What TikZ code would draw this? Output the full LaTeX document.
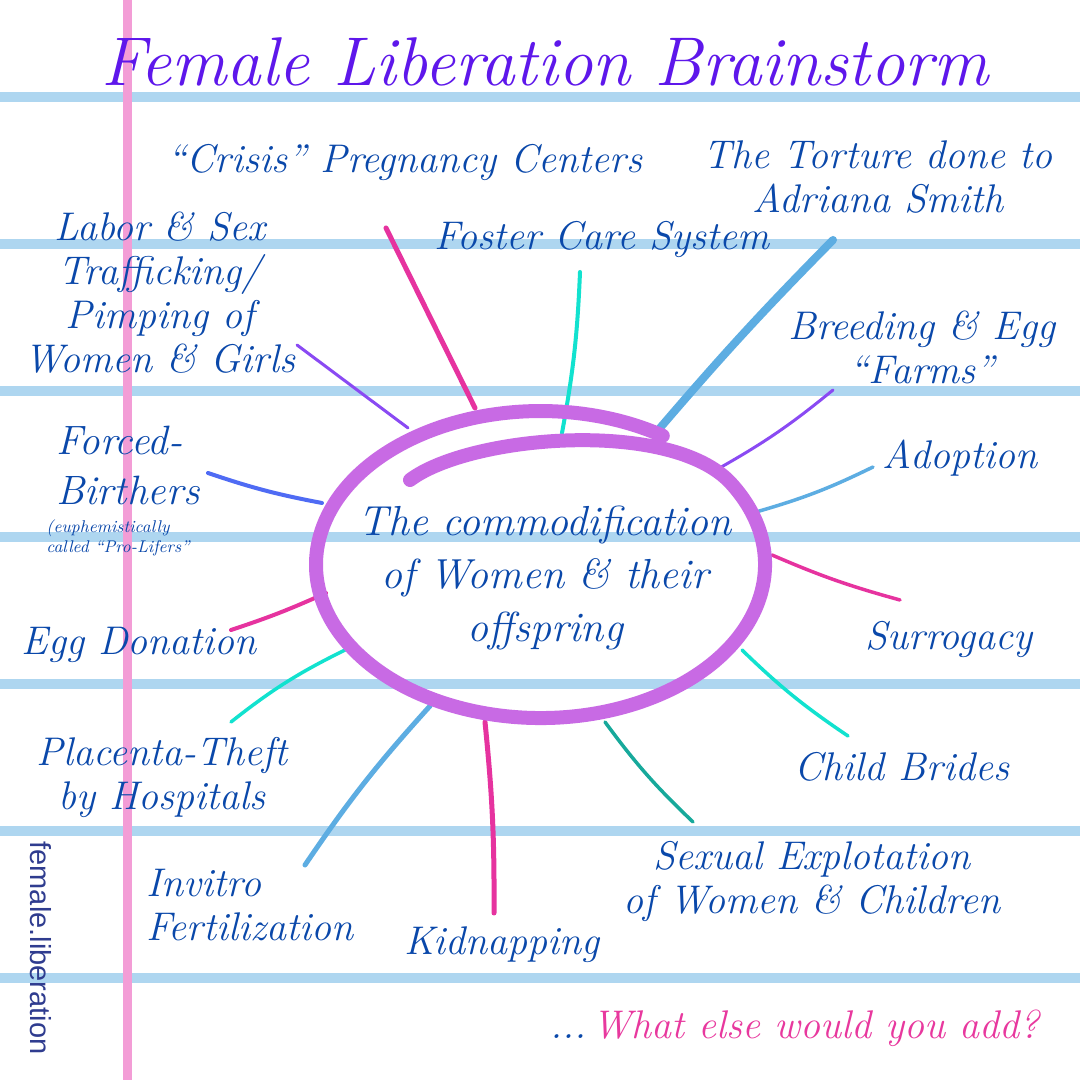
\documentclass[tikz,border=0pt]{standalone}
\usepackage{fontspec}
\newfontfamily\wmfont{Liberation Sans}
\definecolor{rulecol}{RGB}{174,214,240}
\definecolor{marginpink}{RGB}{243,157,214}
\definecolor{inkblue}{RGB}{10,72,170}
\definecolor{titlecol}{RGB}{94,23,235}
\definecolor{ellcol}{RGB}{200,106,228}
\definecolor{spPink}{RGB}{230,51,159}
\definecolor{spTurq}{RGB}{18,226,207}
\definecolor{spLight}{RGB}{93,173,226}
\definecolor{spPurple}{RGB}{138,74,243}
\definecolor{spBlue}{RGB}{79,107,244}
\definecolor{spTeal}{RGB}{23,169,155}
\definecolor{qpink}{RGB}{232,56,158}
\definecolor{wmcol}{RGB}{47,60,143}
\begin{document}
\begin{tikzpicture}[x=0.5pt,y=0.5pt,
  lbl/.style={font=\fontsize{20}{22}\selectfont\itshape, text=inkblue, align=center, inner sep=0pt},
  spk/.style={line cap=round, line width=#1},
  spk/.default=1.75pt]
\useasboundingbox (0,0) rectangle (1080,1080);
\fill[white] (0,0) rectangle (1080,1080);
% ruled paper
\foreach \yy in {983,836,689,543,396,249,102}
  \draw[rulecol, line width=4.75pt] (0,\yy) -- (1080,\yy);
\draw[marginpink, line width=4.5pt] (127,0) -- (127,1080);

% spoke end points
\coordinate (crisisA) at (386,852);   \coordinate (crisisB) at (475,672);
\coordinate (fosterA) at (580,808);   \coordinate (fosterB) at (562,647);
\coordinate (tortA) at (833,840);     \coordinate (tortB) at (660,652);
\coordinate (laborA) at (297,735);    \coordinate (laborB) at (408,652);
\coordinate (breedA) at (833,690);    \coordinate (breedB) at (716,610);
\coordinate (adoptA) at (873,613);    \coordinate (adoptB) at (756,568);
\coordinate (forcedA) at (208,607);   \coordinate (forcedB) at (322,577);
\coordinate (surroA) at (900,480);    \coordinate (surroB) at (772,525);
\coordinate (eggA) at (231,450);      \coordinate (eggB) at (326,487);
\coordinate (placA) at (231,358);     \coordinate (placB) at (345,430);
\coordinate (childA) at (848,344);    \coordinate (childB) at (742,430);
\coordinate (ivfA) at (305,215);      \coordinate (ivfB) at (430,374);
\coordinate (kidA) at (494,167);      \coordinate (kidB) at (485,358);
\coordinate (sexA) at (693,258);      \coordinate (sexB) at (605,358);

% spokes
\draw[spPink, spk=2.5pt] (crisisA) -- (crisisB);
\draw[spTurq, spk=2pt] (fosterA) to[bend left=4] (fosterB);
\draw[spLight, spk=4pt] (tortA) to[bend right=2] (tortB);
\draw[spPurple, spk=1.5pt] (laborA) -- (laborB);
\draw[spPurple, spk=1.5pt] (breedA) to[bend left=5] (breedB);
\draw[spLight, spk=1.75pt] (adoptA) to[bend left=5] (adoptB);
\draw[spBlue, spk=2pt] (forcedA) to[bend right=4] (forcedB);
\draw[spPink, spk=1.75pt] (surroA) to[bend left=4] (surroB);
\draw[spPink, spk=2pt] (eggA) to[bend right=3] (eggB);
\draw[spTurq, spk=1.75pt] (placA) to[bend left=6] (placB);
\draw[spTurq, spk=1.75pt] (childA) to[bend left=5] (childB);
\draw[spLight, spk=2.5pt] (ivfA) to[bend left=4] (ivfB);
\draw[spPink, spk=2.5pt] (kidA) to[bend right=3] (kidB);
\draw[spTeal, spk=1.75pt] (sexA) to[bend left=5] (sexB);

% central loop
\draw[ellcol, line width=7pt, line cap=round]
  (410,600) .. controls (470,645) and (671.4,661.8) .. (730.9,596.8)
  arc[start angle=32, end angle=-303, x radius=112.25pt, y radius=76.75pt];

% texts
\node[lbl, font=\fontsize{34.5}{36}\selectfont\itshape, text=titlecol, anchor=base] (title) at (545,994) {Female Liberation Brainstorm};
\node[lbl, font=\fontsize{21}{26.5}\selectfont\itshape] (hub) at (545,502) {The commodification\\of Women \& their\\offspring};
\node[lbl] (crisis) at (405,917) {“Crisis” Pregnancy Centers};
\node[lbl] (torture) at (878,903) {The Torture done to\\Adriana Smith};
\node[lbl] (labor) at (160,787) {Labor \& Sex\\Trafficking/\\Pimping of\\Women \& Girls};
\node[lbl] (foster) at (602,840) {Foster Care System};
\node[lbl] (breeding) at (922,733) {Breeding \& Egg\\“Farms”};
\node[lbl] (adoption) at (960,622) {Adoption};
\node[lbl, font=\fontsize{20.5}{25}\selectfont\itshape, align=left, anchor=west] (forced) at (56,615) {Forced-\\Birthers};
\node[lbl, font=\fontsize{8.5}{10}\selectfont\itshape, align=left, anchor=west] (euph) at (46,542) {(euphemistically\\called “Pro-Lifers”};
\node[lbl] (egg) at (139,435) {Egg Donation};
\node[lbl] (surrogacy) at (949,440) {Surrogacy};
\node[lbl] (placenta) at (162,302) {Placenta-Theft\\by Hospitals};
\node[lbl] (child) at (902,313) {Child Brides};
\node[lbl, align=left, anchor=west] (invitro) at (146,175) {Invitro\\Fertilization};
\node[lbl] (kidnap) at (502,135) {Kidnapping};
\node[lbl] (sexual) at (812,198) {Sexual Explotation\\of Women \& Children};
\node[lbl] (whatelse) at (795,52) {\textcolor{inkblue}{...}\,\textcolor{qpink}{What else would you add?}};
\node[font=\wmfont\fontsize{14.5}{16}\selectfont, text=wmcol, rotate=-90, inner sep=0pt] (wm) at (41,132) {female.liberation};
\end{tikzpicture}
\end{document}
